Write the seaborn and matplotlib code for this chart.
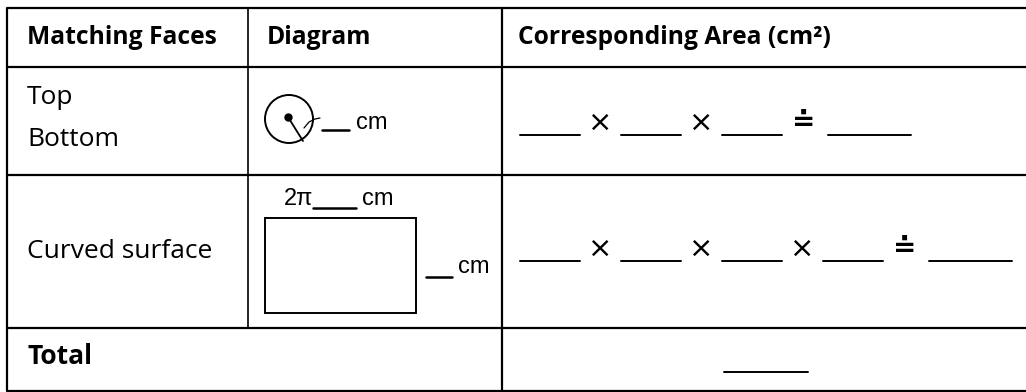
import matplotlib.pyplot as plt
import seaborn as sns
from matplotlib.patches import Circle, Rectangle

# Table contents
header_labels = ["Matching Faces", "Diagram", "Corresponding Area (cm²)"]
face_labels = ["Top", "Bottom", "Curved surface", "Total"]
factor_counts = [3, 4]          # blanks multiplied in each area formula
unit = "cm"
rect_top_prefix = "2π"

sns.set_theme(style="white")
plt.rcParams['font.family'] = ['Open Sans', 'DejaVu Sans']
plt.rcParams['text.color'] = "black"

W, H = 1026, 392
fig = plt.figure(figsize=(W / 100, H / 100), dpi=100)
ax = fig.add_axes([0, 0, 1, 1])
ax.set_xlim(0, W)
ax.set_ylim(H, 0)
ax.axis("off")

# grid lines
col_x = [7, 248, 502]
row_y = [8, 67, 175, 328, 391]
lw = 1.6
for y in row_y:
    ax.plot([col_x[0], W], [y, y], color="black", lw=lw, solid_capstyle="butt")
ax.plot([col_x[0]] * 2, [row_y[0], row_y[-1]], color="black", lw=lw)
ax.plot([col_x[1]] * 2, [row_y[0], row_y[3]], color="black", lw=1.2)
ax.plot([col_x[2]] * 2, [row_y[0], row_y[-1]], color="black", lw=lw)

# headers
for x, lab in zip([27, 267, 518], header_labels):
    ax.text(x, 37, lab, fontsize=17.7, fontweight="bold", va="center", ha="left")

# first column
ax.text(27, 97, face_labels[0], fontsize=19, va="center", ha="left")
ax.text(27, 139, face_labels[1], fontsize=19, va="center", ha="left")
ax.text(27, 252, face_labels[2], fontsize=19, va="center", ha="left")
ax.text(27, 357, face_labels[3], fontsize=19, fontweight="bold", va="center", ha="left")

# circle diagram
ax.add_patch(Circle((289, 119), 24, fill=False, lw=1.4, color="black"))
ax.plot([288], [117], "o", color="black", ms=5)
ax.plot([288, 303], [117, 141], color="black", lw=1.3)
ax.plot([304, 309, 315, 320], [128, 122, 119, 118], color="black", lw=0.9)
ax.plot([322, 349], [130, 130], color="black", lw=1.8)
ax.text(356, 123, unit, fontsize=17, family="Liberation Sans", va="center", ha="left")

# rectangle diagram
ax.add_patch(Rectangle((265, 218), 151, 95, fill=False, lw=1.4, color="black"))
ax.text(284, 199, rect_top_prefix, fontsize=17, family="Liberation Sans", va="center", ha="left")
ax.plot([313, 356], [208, 208], color="black", lw=1.8)
ax.text(362, 199, unit, fontsize=17, family="Liberation Sans", va="center", ha="left")
ax.plot([426, 452], [277, 277], color="black", lw=1.8)
ax.text(458, 267, unit, fontsize=17, family="Liberation Sans", va="center", ha="left")

# area formulas
for n, yb in zip(factor_counts, [135, 261]):
    x = 520
    for i in range(n):
        ax.plot([x, x + 60], [yb, yb], color="black", lw=1.4)
        if i < n - 1:
            ax.text(x + 80, yb - 12, "×", fontsize=21, family="DejaVu Sans",
                    va="center", ha="center")
        x += 101
    eq_x = x - 101 + 60 + 22
    ax.text(eq_x, yb - 13, "≐", fontsize=20, family="DejaVu Sans",
            fontweight="bold", va="center", ha="center")
    ax.plot([eq_x + 24, eq_x + 107], [yb, yb], color="black", lw=1.4)

# total blank
ax.plot([724, 808], [372, 372], color="black", lw=1.4)

fig.savefig("out.png", dpi=100)
